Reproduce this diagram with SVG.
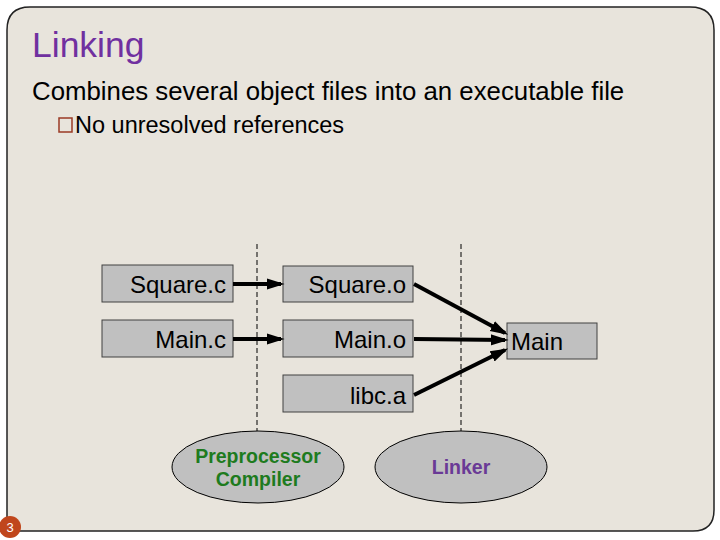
<svg xmlns="http://www.w3.org/2000/svg" width="720" height="540" viewBox="0 0 720 540">
<style>
.box{fill:#C0C0C0;stroke:#404040;stroke-width:1}
.bt{font-family:"Liberation Sans",Arial,sans-serif;font-size:24px;fill:#000}
.dash{stroke:#000;stroke-width:1;stroke-dasharray:5,3}
.conn{stroke:#000;stroke-width:4;fill:none}
.ell{fill:#C0C0C0;stroke:#000;stroke-width:1}
.et{font-family:"Liberation Sans",Arial,sans-serif;font-size:19.5px;font-weight:bold;text-anchor:middle}
</style>
<defs>
<marker id="ah" markerWidth="4.5" markerHeight="4" refX="3.6" refY="2" orient="auto" markerUnits="strokeWidth">
<path d="M0,0.6 L4.5,2 L0,3.4 z" fill="#000"/>
</marker>
</defs>
<rect width="720" height="540" fill="#fff"/>
<path d="M7,531 L7,30 Q7,7 30,7 L690,7 Q714,7 714,30 L714,510 Q714,531 693,531 Z" fill="#E8E4DC" stroke="#222" stroke-width="1.5"/>
<circle cx="10" cy="527" r="11" fill="#C0461C"/>
<text x="10" y="532" font-family="Liberation Sans,Arial,sans-serif" font-size="13" fill="#fff" text-anchor="middle">3</text>
<text x="32" y="57" font-family="Liberation Sans,Arial,sans-serif" font-size="35.5" fill="#7030A0">Linking</text>
<text x="32" y="100" font-family="Liberation Sans,Arial,sans-serif" font-size="25.8" fill="#000">Combines several object files into an executable file</text>
<rect x="59" y="118" width="13" height="14" fill="none" stroke="#9A3A24" stroke-width="1.5"/>
<text x="75" y="133" font-family="Liberation Sans,Arial,sans-serif" font-size="23.5" fill="#000">No unresolved references</text>
<g id="dividers">
<line class="dash" x1="257" y1="244" x2="257" y2="432"/>
<line class="dash" x1="461" y1="244" x2="461" y2="432"/>
</g>
<g id="square_c"><rect class="box" x="102" y="265" width="131" height="37"/><text class="bt" x="226" y="293" text-anchor="end">Square.c</text></g>
<g id="main_c"><rect class="box" x="102" y="320" width="131" height="37"/><text class="bt" x="226" y="348" text-anchor="end">Main.c</text></g>
<g id="square_o"><rect class="box" x="283" y="266" width="130" height="36"/><text class="bt" x="406" y="293" text-anchor="end">Square.o</text></g>
<g id="main_o"><rect class="box" x="283" y="320" width="130" height="37"/><text class="bt" x="406" y="348" text-anchor="end">Main.o</text></g>
<g id="libc_a"><rect class="box" x="283" y="375" width="130" height="37"/><text class="bt" x="406" y="404" text-anchor="end">libc.a</text></g>
<g id="main"><rect class="box" x="507" y="323" width="90" height="36"/><text class="bt" x="511" y="350">Main</text></g>
<g id="connectors">
<line class="conn" x1="233" y1="284" x2="281" y2="284" marker-end="url(#ah)"/>
<line class="conn" x1="233" y1="339" x2="281" y2="339" marker-end="url(#ah)"/>
<line class="conn" x1="414" y1="284" x2="505" y2="333" marker-end="url(#ah)"/>
<line class="conn" x1="414" y1="339" x2="505" y2="340" marker-end="url(#ah)"/>
<line class="conn" x1="414" y1="395" x2="505" y2="350" marker-end="url(#ah)"/>
</g>
<g id="preprocessor">
<ellipse class="ell" cx="258" cy="467" rx="86" ry="36"/>
<text class="et" x="258" y="463" fill="#1E7B1E">Preprocessor</text>
<text class="et" x="258" y="486" fill="#1E7B1E">Compiler</text>
</g>
<g id="linker">
<ellipse class="ell" cx="461" cy="467" rx="86" ry="36"/>
<text class="et" x="461" y="474" fill="#6A3A96">Linker</text>
</g>
</svg>
